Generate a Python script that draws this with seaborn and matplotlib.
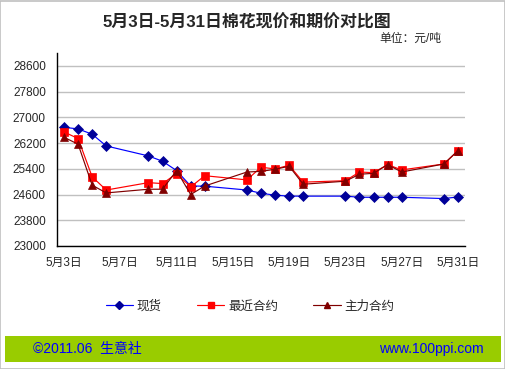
import numpy as np
import pandas as pd
import matplotlib
matplotlib.use("Agg")
import matplotlib.pyplot as plt
from matplotlib.patches import Rectangle
import seaborn as sns

# ---- data ----
days = [3, 4, 5, 6, 9, 10, 11, 12, 13, 16, 17, 18, 19, 20, 23, 24, 25, 26, 27, 30, 31]
spot = [26690, 26640, 26475, 26110, 25800, 25635, 25345, 24865, 24860, 24740, 24640,
        24580, 24550, 24550, 24550, 24515, 24515, 24515, 24515, 24475, 24525]
nearby = [26545, 26340, 25150, 24740, 24970, 24940, 25250, 24835, 25185, 25055, 25450,
          25395, 25510, 24985, 25030, 25300, 25280, 25530, 25365, 25550, 25965]
main = [26380, 26165, 24890, 24650, 24765, 24765, 25345, 24600, 24865, 25300, 25320,
        25385, 25480, 24920, 25015, 25230, 25260, 25530, 25300, 25550, 25965]
series_names = ["现货", "最近合约", "主力合约"]
tick_days = [3, 7, 11, 15, 19, 23, 27, 31]
tick_labels = [f"5月{d}日" for d in tick_days]
yticks = list(range(23000, 29000, 800))

title = "5月3日-5月31日棉花现价和期价对比图"
unit = "单位：元/吨"

df = pd.DataFrame({
    "x": [d - 3 for d in days] * 3,
    "v": spot + nearby + main,
    "s": sum([[n] * len(days) for n in series_names], []),
})

sns.set_style("white")
plt.rcParams["font.family"] = ["Liberation Sans", "Noto Sans CJK SC", "DejaVu Sans"]

W, H = 506, 369
fig = plt.figure(figsize=(W / 100, H / 100), dpi=100)
fig.patch.set_facecolor("white")

ax = fig.add_axes([57 / W, 1 - 246 / H, (465 - 57) / W, (246 - 53) / H])

line_cols = {"现货": "#0000ff", "最近合约": "#ff0000", "主力合约": "#800000"}
mark_cols = {"现货": "#000099", "最近合约": "#ff0000", "主力合约": "#800000"}
markers = {"现货": "D", "最近合约": "s", "主力合约": "^"}
msize = {"现货": 4.8, "最近合约": 5.2, "主力合约": 5.8}

sns.lineplot(data=df, x="x", y="v", hue="s", style="s", hue_order=series_names,
             style_order=series_names, palette=line_cols, markers=markers,
             dashes=False, errorbar=None, legend=False, linewidth=0.85, ax=ax, sort=False)

for ln, name in zip(ax.lines, series_names):
    ln.set_markerfacecolor(mark_cols[name])
    ln.set_markeredgecolor(mark_cols[name])
    ln.set_markeredgewidth(0.5)
    ln.set_markersize(msize[name])

ax.set_xlim(-0.5, 28.5)
ax.set_ylim(23000, 29000)
ax.set_yticks(yticks)
ax.set_yticklabels([str(v) for v in yticks], fontsize=8.5)
ax.set_xticks([d - 3 for d in tick_days])
ax.set_xticklabels(tick_labels, fontsize=8.5)
ax.set_xticks([d - 3.5 for d in tick_days], minor=True)
ax.tick_params(axis="x", which="major", length=0, pad=8)
ax.tick_params(axis="x", which="minor", length=4, direction="in", width=1, color="black")
ax.tick_params(axis="y", length=0, pad=8)
ax.set_xlabel("")
ax.set_ylabel("")
ax.grid(axis="y", color="#c0c0c0", linewidth=1)
ax.grid(axis="x", visible=False)
ax.set_axisbelow(True)
for s in ["top", "right"]:
    ax.spines[s].set_visible(False)
for s in ["left", "bottom"]:
    ax.spines[s].set_color("black")
    ax.spines[s].set_linewidth(1)

fig.text(247 / W, 1 - 22 / H, title, ha="center", va="center", fontsize=12.2,
         fontweight="bold")
fig.text(441 / W, 1 - 39 / H, unit, ha="right", va="center", fontsize=8.5)

handles = [plt.Line2D([], [], color=line_cols[n], marker=markers[n],
                      markerfacecolor=mark_cols[n], markeredgecolor=mark_cols[n],
                      markersize=msize[n] - 0.8, linewidth=0.85) for n in series_names]
fig.legend(handles, series_names, loc="center", bbox_to_anchor=(250 / W, 1 - 306.5 / H),
           ncol=3, frameon=False, fontsize=9, handlelength=2.2, handletextpad=0.3,
           columnspacing=2.8)

# footer band
fig.patches.append(Rectangle((5 / W, 1 - 361.7 / H), 496 / W, 26 / H,
                             transform=fig.transFigure, facecolor="#99cc00",
                             edgecolor="none"))
fig.text(33 / W, 1 - 349 / H, "©2011.06  生意社", ha="left", va="center",
         fontsize=10, color="#0000ff")
fig.text(484 / W, 1 - 349 / H, "www.100ppi.com", ha="right", va="center",
         fontsize=10, color="#0000ff")
# outer frame
fig.patches.append(Rectangle((0.5 / W, 0.5 / H), (W - 1.5) / W, (H - 1.5) / H,
                             transform=fig.transFigure, facecolor="none",
                             edgecolor="#c0c0c0", linewidth=1.2))

fig.savefig("out.png", dpi=100)
